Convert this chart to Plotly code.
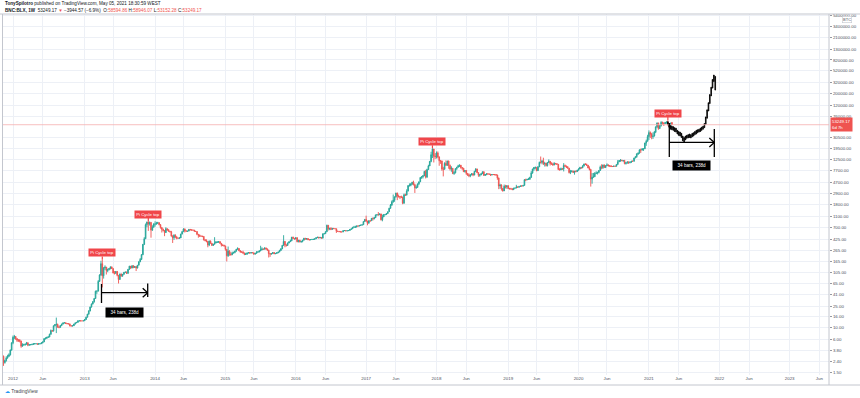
import numpy as np
import pandas as pd
import plotly.graph_objects as go

# ---------------- DATA (weekly BNC:BLX candles) ----------------
first_open = 3.4
last_open = 58594.86

c2011 = [3.0, 2.3, 2.5, 2.8, 3.0, 3.2, 3.9, 5.3]
h2011 = [3.6, 3.1, 2.6, 3.0, 3.2, 3.4, 4.0, 5.4]
l2011 = [2.9, 2.0, 2.2, 2.4, 2.7, 2.9, 3.1, 3.8]

c2012 = [6.7, 6.9, 6.3, 5.9, 5.9, 5.7, 4.6, 4.9, 4.9, 5.0, 5.3, 4.8, 4.9, 4.9, 4.95, 5.1, 5.1, 5.1,
         5.0, 5.1, 5.1, 5.3, 5.5, 6.3, 6.4, 6.7, 6.8, 7.6, 8.9, 8.8, 10.9, 11.5, 11.6, 10.3, 10.2,
         11.0, 11.7, 12.3, 12.4, 12.0, 11.9, 11.8, 10.9, 10.8, 10.9, 11.7, 12.3, 12.6,
         13.4, 13.5, 13.4, 13.4, 13.5]
h2012 = [7.2, 7.4, 7.0, 6.5, 6.2, 6.2, 5.8, 5.2, 5.1, 5.1, 5.5, 5.4, 5.0, 5.0, 5.1, 5.2, 5.2, 5.2,
         5.1, 5.2, 5.2, 5.4, 5.6, 6.5, 6.7, 6.8, 7.0, 7.8, 9.3, 9.1, 11.0, 11.6, 15.4, 11.9, 11.0,
         11.1, 11.9, 12.5, 12.6, 12.5, 12.2, 11.9, 11.9, 11.0, 11.1, 11.8, 12.5, 12.7,
         13.7, 13.6, 13.6, 13.5, 13.6]
l2012 = [5.0, 6.2, 6.0, 5.5, 5.5, 5.4, 4.3, 4.5, 4.7, 4.7, 4.9, 4.6, 4.7, 4.8, 4.8, 4.9, 5.0, 5.0,
         4.9, 4.9, 5.0, 5.1, 5.2, 5.5, 6.1, 6.3, 6.5, 6.7, 7.5, 8.4, 8.5, 10.6, 8.0, 10.0, 9.8,
         10.1, 10.9, 11.6, 12.1, 11.8, 11.6, 11.6, 10.6, 10.6, 10.6, 10.8, 11.6, 12.2,
         12.5, 13.1, 13.2, 13.2, 13.2]

c2013 = [14.2, 15.6, 17.8, 20.4, 24.0, 27.2, 30.0, 34.5, 46.9, 47.0, 71, 93, 150, 90, 125, 130, 112,
         117, 122, 131, 122, 101, 100, 108, 92, 77, 97, 90, 96, 104, 105, 100, 118, 135,
         125, 138, 128, 133, 125, 141, 163, 180, 220, 340, 430, 780, 870, 800, 860, 620, 700, 800]
h2013 = [14.5, 16, 18, 21, 24.5, 28, 31, 35, 48, 48.5, 75, 96, 170, 180, 130, 140, 130,
         122, 125, 134, 133, 123, 110, 110, 110, 93, 99, 99, 97, 106, 108, 108, 120, 137,
         136, 140, 140, 135, 134, 142, 165, 190, 225, 345, 460, 820, 890, 910, 890, 860, 760, 830]
l2013 = [13.3, 14, 15.5, 17.5, 20, 23.5, 27, 29, 34, 42, 47, 70, 90, 55, 80, 115, 95,
         105, 113, 118, 120, 100, 95, 98, 88, 65, 76, 86, 86, 94, 102, 97, 98, 117,
         120, 124, 124, 126, 110, 123, 140, 160, 175, 215, 330, 430, 700, 600, 750, 450, 600, 690]

c2014 = [800, 830, 850, 780, 690, 640, 610, 560, 660, 630, 590, 580, 480, 450, 500, 470, 440,
         440, 445, 525, 580, 650, 600, 590, 595, 640, 630, 620, 620, 590, 585, 520, 500, 480,
         480, 475, 410, 400, 385, 330, 390, 355, 325, 340, 360, 375, 375, 380, 355, 330, 325, 318]
h2014 = [900, 880, 880, 860, 800, 700, 660, 620, 700, 660, 640, 600, 600, 500, 520, 520, 470,
         450, 460, 530, 600, 670, 665, 615, 600, 645, 650, 635, 630, 625, 600, 590, 520, 515,
         490, 485, 480, 425, 420, 390, 400, 400, 360, 345, 460, 390, 380, 390, 390, 355, 340, 335]
l2014 = [720, 780, 800, 760, 660, 560, 590, 480, 550, 600, 580, 560, 475, 360, 410, 440, 420,
         430, 430, 445, 520, 580, 560, 580, 580, 590, 610, 610, 610, 585, 580, 500, 450, 470,
         470, 460, 400, 385, 370, 300, 315, 350, 320, 320, 340, 355, 360, 360, 350, 310, 315, 310]

c2015 = [275, 210, 255, 225, 220, 235, 240, 255, 275, 285, 260, 245, 245, 235, 222, 225, 235,
         240, 235, 240, 237, 225, 232, 245, 245, 257, 268, 280, 277, 290, 280, 265, 230, 225, 230,
         240, 228, 232, 237, 245, 262, 280, 325, 385, 330, 325, 360, 380, 395, 460, 440, 425]
h2015 = [320, 275, 310, 265, 245, 250, 250, 260, 280, 300, 290, 265, 255, 260, 240, 238, 240,
         245, 245, 245, 242, 240, 235, 255, 255, 265, 320, 300, 280, 300, 298, 285, 270, 235, 235,
         245, 245, 235, 245, 250, 270, 290, 330, 500, 390, 340, 365, 380, 415, 465, 470, 440]
l2015 = [260, 165, 200, 210, 210, 215, 230, 233, 250, 270, 255, 240, 240, 230, 215, 220, 218,
         232, 230, 232, 235, 220, 220, 232, 240, 250, 255, 265, 270, 275, 270, 260, 195, 200, 220,
         228, 225, 225, 230, 235, 245, 260, 280, 320, 300, 310, 320, 355, 385, 390, 425, 415]

c2016 = [450, 380, 405, 375, 385, 405, 440, 430, 435, 415, 410, 415, 420, 420, 430, 450, 460,
         445, 455, 440, 530, 535, 580, 760, 660, 670, 640, 665, 660, 655, 590, 590, 580, 575, 575,
         605, 610, 600, 605, 610, 640, 655, 700, 700, 705, 740, 735, 755, 765, 780, 890, 975]
h2016 = [460, 455, 410, 410, 390, 410, 445, 445, 440, 420, 420, 420, 425, 425, 432, 455, 465,
         465, 465, 460, 535, 545, 590, 780, 770, 680, 700, 680, 680, 665, 660, 600, 590, 590, 580,
         615, 615, 612, 610, 615, 645, 660, 705, 740, 745, 745, 755, 760, 775, 785, 895, 980]
l2016 = [420, 370, 370, 370, 365, 370, 402, 410, 410, 405, 405, 408, 410, 415, 415, 425, 445,
         440, 440, 438, 440, 520, 535, 580, 610, 620, 620, 630, 655, 650, 550, 585, 570, 570, 565,
         570, 600, 592, 595, 600, 608, 630, 655, 680, 690, 700, 720, 730, 740, 760, 780, 880]

c2017 = [910, 830, 925, 920, 1020, 1000, 1050, 1180, 1190, 1180, 1230, 960, 1080, 1200, 1200, 1250, 1350,
         1560, 1790, 2050, 2200, 2520, 2980, 2620, 2560, 2500, 2500, 1930, 2760, 2720, 3220,
         4060, 4110, 4360, 4700, 4220, 3700, 3770, 4380, 4770, 5700, 5920, 6150, 7400,
         5870, 8000, 9300, 11300, 15000, 19100, 14000, 13800]
h2017 = [1140, 920, 930, 930, 1030, 1060, 1070, 1190, 1200, 1330, 1250, 1110, 1190, 1210, 1210, 1260, 1350,
         1590, 1870, 2170, 2790, 2580, 2980, 3000, 2780, 2600, 2660, 2550, 2900, 2900, 3480,
         4170, 4470, 4500, 4750, 5000, 4400, 4100, 4400, 4800, 5850, 6000, 6300, 7600,
         7900, 8300, 9800, 11500, 17000, 19700, 19000, 16000]
l2017 = [880, 760, 820, 880, 910, 930, 980, 1040, 1140, 1150, 1180, 930, 900, 1080, 1150, 1170, 1230,
         1350, 1530, 1720, 1970, 2050, 2450, 2200, 2450, 2300, 2420, 1850, 1900, 2620, 2690,
         3200, 3900, 3950, 4150, 4100, 2980, 3550, 3800, 4150, 4770, 5400, 5500, 6100,
         5500, 5600, 7900, 9300, 10900, 13000, 10800, 12500]

c2018 = [16200, 13600, 11600, 11500, 8200, 8100, 10400, 9600, 11500, 9550, 8200, 8450, 6800,
         7000, 8350, 8800, 9400, 9650, 8700, 8500, 7350, 7700, 6800, 6450, 6150, 6350,
         6750, 6350, 7400, 8200, 7030, 6300, 6400, 6700, 7300, 6250, 6500, 6700, 6620,
         6590, 6350, 6490, 6480, 6480, 6350, 5600, 4000, 4150, 3600, 3250, 3950, 3850, 4050]
h2018 = [17200, 17200, 14000, 12000, 11700, 9000, 10900, 11800, 11600, 11700, 9900, 9200, 8500,
         7500, 8400, 9000, 9800, 9950, 9700, 8900, 8500, 7800, 7800, 6900, 6800, 6600,
         6800, 6800, 7600, 8500, 8300, 7150, 6600, 6900, 7400, 7400, 6600, 6800, 6800,
         6700, 6650, 6600, 6600, 6600, 6600, 6450, 5700, 4400, 4300, 3650, 4250, 4200, 4100]
l2018 = [12800, 12800, 9400, 10200, 7600, 6000, 8000, 9300, 9400, 8300, 7700, 7300, 6600,
         6400, 6800, 7900, 8800, 8900, 8300, 7900, 7200, 7050, 6400, 6100, 5800, 5800,
         6400, 6050, 6300, 7700, 6900, 5900, 5900, 6300, 6700, 6150, 6100, 6300, 6450,
         6500, 6100, 6300, 6400, 6250, 6200, 5200, 3500, 3550, 3300, 3150, 3250, 3600, 3550]

c2019 = [3600, 3550, 3550, 3420, 3650, 3670, 3830, 3810, 3930, 4000, 3990, 4100,
         5200, 5150, 5300, 5300, 5750, 6950, 8200, 8750, 8750, 7650, 8950, 10850, 10800,
         11450, 10250, 10500, 9500, 10800, 11300, 10300, 10100, 9750,
         10400, 10300, 10000, 8050, 7900, 8300, 8200, 9500, 9200, 8800, 8500, 7050, 7400,
         7500, 7100, 7500, 7400, 7750]
h2019 = [4100, 3700, 3700, 3600, 3700, 3700, 4200, 3900, 3950, 4050, 4100, 4150,
         5350, 5450, 5400, 5650, 5900, 7500, 8300, 8900, 9100, 8800, 9300, 11200, 13900,
         12000, 13200, 10900, 10200, 11000, 12300, 11500, 10900, 10700,
         10900, 10500, 10300, 10050, 8500, 8700, 8450, 10500, 9900, 9500, 9300, 8500, 7900,
         7800, 7700, 7550, 7700, 7900]
l2019 = [3500, 3450, 3450, 3380, 3400, 3600, 3650, 3700, 3700, 3850, 3900, 3900,
         4100, 4900, 5150, 5150, 5200, 5700, 6700, 7600, 8100, 7450, 7600, 8950, 10300,
         10000, 9700, 9100, 9100, 9100, 10600, 9500, 9800, 9400,
         9600, 9900, 9800, 7800, 7700, 7800, 7900, 7400, 9000, 8700, 8400, 6800, 6600,
         7100, 7000, 6450, 7100, 7200]

c2020 = [8200, 8700, 8600, 9350, 10150, 9900, 9650, 8550, 8050, 5350, 5800, 5900, 6800,
         6900, 7100, 7700, 8900, 8700, 9700, 8700, 9450, 9750, 9350, 9300, 9100, 9100,
         9250, 9200, 9950, 11100, 11700, 11900, 11650, 11700, 10300, 10700, 11100, 10750, 11050,
         11400, 11350, 13050, 13800, 15500, 16000, 18400, 18200, 19150, 19250, 24650, 26450, 32200]
h2020 = [8450, 9000, 8800, 9600, 10200, 10500, 10300, 9600, 9200, 8150, 6900, 6950, 7200,
         7450, 7300, 7750, 9450, 10000, 9900, 9950, 9600, 10400, 9950, 9650, 9700, 9250,
         9450, 9350, 9950, 12000, 11900, 12450, 12100, 11800, 12050, 10800, 11200, 11180, 11100,
         11500, 11700, 13200, 14000, 15950, 16500, 18800, 19400, 19900, 19400, 24300, 28400, 34800]
l2020 = [7700, 8100, 8300, 8500, 9100, 9700, 9300, 8500, 7700, 3900, 4400, 5700, 5900,
         6600, 6500, 6800, 7600, 8100, 8200, 8650, 8600, 9250, 9200, 9000, 8900, 9000,
         9050, 9000, 9150, 9850, 11100, 11100, 11400, 11100, 10000, 9900, 10200, 10150, 10400,
         10550, 11200, 11300, 12900, 13200, 14800, 15700, 16200, 18000, 17600, 19000, 21800, 26300]

c2021 = [38150, 35800, 32300, 33100, 38900, 48600, 57500, 45200, 51200, 59000, 57500, 55800,
         58200, 59800, 56200, 49000, 57194, 53249.17]
h2021 = [41950, 40100, 37800, 38500, 40900, 49700, 58300, 57500, 52600, 61700, 60600, 58400,
         60000, 61300, 64800, 57000, 57900, 58946.07]
l2021 = [28000, 30400, 28800, 29200, 32300, 37400, 46200, 43000, 44900, 49300, 53300, 50400,
         54800, 55400, 51200, 47000, 47100, 53152.28]

# projected path (black bars pattern drawn on the chart), weekly from 2021-04-12
proj_high = [60500, 56000, 52000, 50000, 49000, 47000, 46000, 42000, 40000, 39000, 37000, 33000,
             31000, 33000, 34000, 35000, 36000, 35000, 37000, 38000, 40000, 42000, 43000, 44000,
             46000, 48000, 50000, 56000, 74000, 100000, 135000, 190000, 260000, 360000, 435000, 410000]
proj_low = [54000, 48000, 44000, 43000, 42000, 40000, 39000, 36000, 34000, 33000, 31000, 27000,
            25700, 28000, 30000, 30500, 31000, 30400, 32000, 33000, 35000, 36000, 38000, 39000,
            40000, 42000, 44000, 47000, 54000, 70000, 95000, 130000, 180000, 250000, 330000, 230000]

pi_cycle_weeks = ["2013-04-08", "2013-12-02", "2017-12-11", "2021-04-12"]

y_tick_values = [1.5, 2.4, 3.8, 6, 10, 16, 25, 41, 65, 105, 165, 265, 425, 700, 1100, 1800, 2900,
                 4700, 7700, 12500, 19500, 30500, 76000, 120000, 200000, 320000, 520000, 820000,
                 1300000, 2100000, 3400000, 5400000]

header1 = "<b>TonySpilotro</b> published on TradingView.com, May 05, 2021 18:30:59 WEST"
RED_T = "<span style='color:#ef5350'>{}</span>"
header2 = ("<b>BNC:BLX, 1W</b>  53249.17 " + RED_T.format("▼") + " −3944.57 (−6.9%)  O:" +
           RED_T.format("58594.86") + " H:" + RED_T.format("58946.07") + " L:" +
           RED_T.format("53152.28") + " C:" + RED_T.format("53249.17"))
measure_text = "34 bars, 238d"
countdown = "6d 7h"

# ---------------- BUILD ----------------
closes = c2011 + c2012 + c2013 + c2014 + c2015 + c2016 + c2017 + c2018 + c2019 + c2020 + c2021
highs = h2011 + h2012 + h2013 + h2014 + h2015 + h2016 + h2017 + h2018 + h2019 + h2020 + h2021
lows = l2011 + l2012 + l2013 + l2014 + l2015 + l2016 + l2017 + l2018 + l2019 + l2020 + l2021
opens = [first_open] + closes[:-1]
opens[-1] = last_open
dates = pd.date_range("2011-11-07", periods=len(closes), freq="7D")
proj_dates = pd.date_range("2021-04-12", periods=len(proj_high), freq="7D")

UP, DOWN, RED = "#26a69a", "#ef5350", "#f0464a"
FONT = "Liberation Sans, Arial, sans-serif"
TXT = "#4c525e"

# plot area in pixels
PL, PR, PT, PB = 3, 829, 14, 375
W, H = 860, 398
PX_YEAR = 70.6
PX_DEC = 54.5


def PX(px):
    return (px - PL) / (PR - PL)


def PY(py):
    return (PB - py) / (PB - PT)


fig = go.Figure()
fig.add_trace(go.Candlestick(
    x=dates, open=opens, high=highs, low=lows, close=closes,
    increasing=dict(line=dict(color=UP, width=0.9), fillcolor=UP),
    decreasing=dict(line=dict(color=DOWN, width=0.9), fillcolor=DOWN),
    whiskerwidth=0, hoverinfo="skip", showlegend=False))
fig.add_trace(go.Candlestick(
    x=proj_dates, open=proj_low, high=proj_high, low=proj_low, close=proj_high,
    increasing=dict(line=dict(color="#000000", width=0.8), fillcolor="#000000"),
    decreasing=dict(line=dict(color="#000000", width=0.8), fillcolor="#000000"),
    whiskerwidth=0, hoverinfo="skip", showlegend=False))

# axes
ppd = PX_YEAR / 365.25
t0 = pd.Timestamp("2012-01-02")
x_start = t0 - pd.Timedelta(days=(13 - PL) / ppd)
x_end = t0 + pd.Timedelta(days=(PR - 13) / ppd)

xt_vals, xt_text = [], []
for yr in range(2012, 2024):
    for m, lab in ((1, str(yr)), (6, "Jun")):
        d = pd.Timestamp(yr, m, 1)
        d = d + pd.Timedelta(days=(7 - d.weekday()) % 7)
        xt_vals.append(d)
        xt_text.append(lab)

y_lo = np.log10(1.5) - (PB - 372.7) / PX_DEC
y_hi = np.log10(1.5) + (372.7 - PT) / PX_DEC

fig.update_layout(
    width=W, height=H,
    margin=dict(l=PL, r=W - PR, t=PT, b=H - PB),
    paper_bgcolor="white", plot_bgcolor="white",
    showlegend=False, hovermode=False,
    font=dict(family=FONT, size=4.5, color=TXT),
    xaxis=dict(type="date", range=[x_start, x_end], tickvals=xt_vals, ticktext=xt_text,
               showgrid=True, gridcolor="#edf0f6", gridwidth=1, zeroline=False, showline=False,
               ticks="", tickfont=dict(size=4.4, color=TXT), rangeslider=dict(visible=False),
               fixedrange=True),
    yaxis=dict(type="log", side="right", range=[y_lo, y_hi], tickvals=y_tick_values,
               ticktext=[f"{v:.2f}" for v in y_tick_values],
               showgrid=True, gridcolor="#edf0f6", gridwidth=1, zeroline=False, showline=False,
               ticks="outside", ticklen=2, tickcolor="#9598a1",
               tickfont=dict(size=4.4, color=TXT), fixedrange=True),
)

shapes = []
BORDER = "#c3c6ce"
# frame lines
shapes.append(dict(type="line", xref="paper", yref="paper", x0=PX(0), x1=PX(W), y0=PY(14), y1=PY(14),
                   line=dict(color=BORDER, width=1)))
shapes.append(dict(type="line", xref="paper", yref="paper", x0=PX(0), x1=PX(W), y0=PY(385), y1=PY(385),
                   line=dict(color=BORDER, width=1)))
shapes.append(dict(type="line", xref="paper", yref="paper", x0=PX(829), x1=PX(829), y0=PY(14), y1=PY(385),
                   line=dict(color=BORDER, width=1)))
shapes.append(dict(type="line", xref="paper", yref="paper", x0=PX(2.5), x1=PX(2.5), y0=PY(14), y1=PY(385),
                   line=dict(color=BORDER, width=1)))
# last price line
shapes.append(dict(type="line", xref="paper", x0=0, x1=1, yref="y", y0=closes[-1], y1=closes[-1],
                   line=dict(color="#f5b0b0", width=0.8)))


def measure(xl, xr, yl0, yl1, yr0, yr1, ym):
    out = []
    ln = dict(color="#000000", width=1.3)
    out.append(dict(type="line", xref="paper", yref="paper", x0=PX(xl), x1=PX(xl), y0=PY(yl0), y1=PY(yl1), line=ln))
    out.append(dict(type="line", xref="paper", yref="paper", x0=PX(xr), x1=PX(xr), y0=PY(yr0), y1=PY(yr1), line=ln))
    out.append(dict(type="line", xref="paper", yref="paper", x0=PX(xl), x1=PX(xr), y0=PY(ym), y1=PY(ym), line=ln))
    out.append(dict(type="line", xref="paper", yref="paper", x0=PX(xr - 5), x1=PX(xr), y0=PY(ym - 4.5), y1=PY(ym), line=ln))
    out.append(dict(type="line", xref="paper", yref="paper", x0=PX(xr - 5), x1=PX(xr), y0=PY(ym + 4.5), y1=PY(ym), line=ln))
    return out


shapes += measure(101.5, 147.7, 284, 303, 283.5, 297, 292.7)
shapes += measure(669.3, 714.3, 123, 157, 129, 157, 142.4)
fig.update_layout(shapes=shapes)

ann = []
# header
ann.append(dict(xref="paper", yref="paper", x=PX(3), y=PY(3.6), xanchor="left", yanchor="middle",
                text=header1, showarrow=False, font=dict(size=4.6, color="#131722")))
ann.append(dict(xref="paper", yref="paper", x=PX(3), y=PY(10), xanchor="left", yanchor="middle",
                text=header2, showarrow=False, font=dict(size=4.6, color="#131722")))
# Pi cycle top labels
for wk in pi_cycle_weeks:
    i = dates.get_loc(pd.Timestamp(wk))
    ann.append(dict(xref="x", yref="y", x=dates[i], y=np.log10(highs[i]), text="Pi Cycle top",
                    showarrow=True, arrowhead=0, arrowwidth=1.2, arrowcolor=RED, ax=0, ay=-7,
                    standoff=0, bgcolor=RED, borderpad=1.2, font=dict(size=4.3, color="white")))
# measurement labels
for cx, cy in ((124.5, 312), (691.2, 165.7)):
    ann.append(dict(xref="paper", yref="paper", x=PX(cx), y=PY(cy), xanchor="center", yanchor="middle",
                    text="  " + measure_text + "  ", showarrow=False, bgcolor="#000000", borderpad=2,
                    font=dict(size=4.6, color="white")))
# last price label on the axis
ann.append(dict(xref="paper", yref="y", x=PX(830), y=np.log10(closes[-1]), xanchor="left", yanchor="middle",
                text=f"{closes[-1]:.2f}<br>{countdown}", showarrow=False, bgcolor="#ef5350",
                borderpad=1, align="left", font=dict(size=4.3, color="white")))
# currency label
ann.append(dict(xref="paper", yref="paper", x=PX(847), y=PY(20), xanchor="center", yanchor="middle",
                text="BTC", showarrow=False, bgcolor="white", bordercolor="#c3c6ce", borderwidth=0.6,
                borderpad=0.5, font=dict(size=4.0, color=TXT)))
# TradingView logo
ann.append(dict(xref="paper", yref="paper", x=PX(3), y=PY(391.5), xanchor="left", yanchor="middle",
                text="<span style='color:#2196f3'>☁</span> TradingView", showarrow=False,
                font=dict(size=4.8, color="#3b3f47")))
fig.update_layout(annotations=ann)

fig.write_html("out.html", config={"displayModeBar": False},
               post_script="document.body.style.margin='0';document.body.style.overflow='hidden';")
